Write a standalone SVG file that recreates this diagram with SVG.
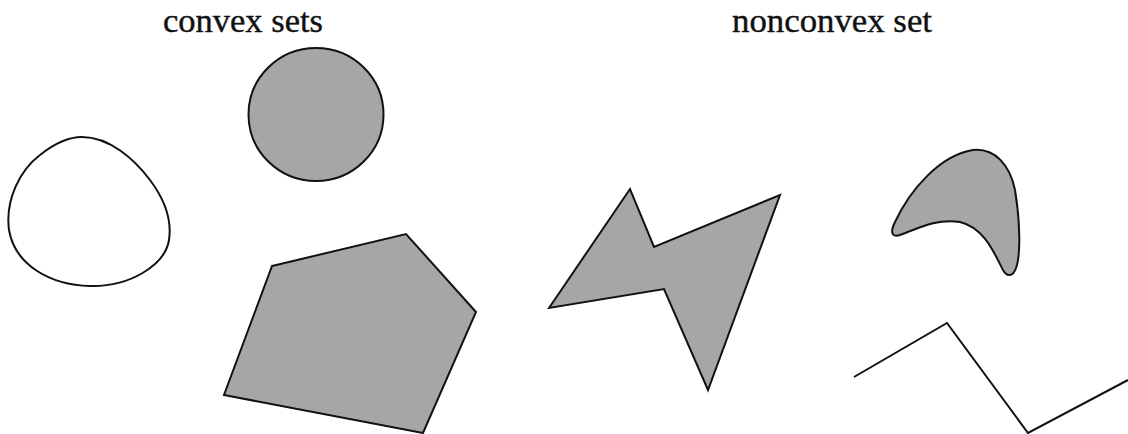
<svg xmlns="http://www.w3.org/2000/svg" width="1128" height="434" viewBox="0 0 1128 434">
<style>
.lbl{font-family:"Liberation Serif","Times New Roman",serif;font-size:34px;fill:#111;stroke:#111;stroke-width:0.4}
.sh{stroke:#111;stroke-width:2;stroke-linejoin:miter}
.g{fill:#a6a6a6}
.w{fill:#fff}
</style>
<rect width="1128" height="434" fill="#fff"/>
<g id="label-convex"><text class="lbl" x="163" y="32" textLength="160" lengthAdjust="spacingAndGlyphs">convex sets</text></g>
<g id="label-nonconvex"><text class="lbl" x="732" y="32" textLength="200" lengthAdjust="spacingAndGlyphs">nonconvex set</text></g>
<g id="blob"><path class="sh w" d="M82,137 C110,137 135,160 150,180 C165,200 172,220 169,240 C165,265 130,287 90,286 C50,285 15,265 9,230 C5,200 20,170 40,155 C55,143 70,137 82,137 Z"/></g>
<g id="circle"><ellipse class="sh g" cx="316" cy="114.5" rx="67.5" ry="66.5"/></g>
<g id="pentagon"><polygon class="sh g" points="272,266 406,234 476,312 423,433 224,395"/></g>
<g id="bowtie"><polygon class="sh g" points="549,308 630,189 654,247 780,195 708,390 664,289"/></g>
<g id="boomerang"><path class="sh g" d="M973,150 C995,148 1010,165 1015,190 C1020,220 1021,255 1016,268 C1013,277 1007,277 1003,270 C995,255 985,228 960,222 C935,218 915,230 900,235 C890,238 891,230 895,222 C910,190 940,155 973,150 Z"/></g>
<g id="zigzag"><polyline class="sh" fill="none" points="854,377 947,323 1028,433 1128,380"/></g>
<g id="connectors"></g>
</svg>
